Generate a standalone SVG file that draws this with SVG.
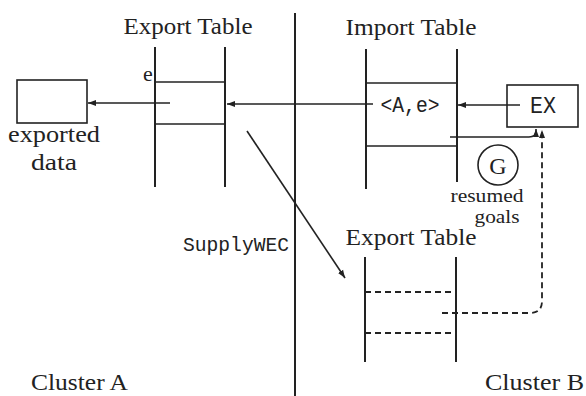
<svg xmlns="http://www.w3.org/2000/svg" width="586" height="396" viewBox="0 0 586 396">
<defs>
<style>
.ln{stroke:#222;stroke-width:2;fill:none}
.thin{stroke:#222;stroke-width:1.6;fill:none}
.dash{stroke:#222;stroke-width:1.8;fill:none;stroke-dasharray:6 4}
.box{stroke:#222;stroke-width:1.6;fill:#fff}
.serif{font-family:"Liberation Serif","DejaVu Serif",serif;fill:#222}
.mono{font-family:"Liberation Mono","DejaVu Sans Mono",monospace;fill:#222}
</style>
<marker id="ah" markerWidth="9" markerHeight="7" refX="8" refY="3.5" orient="auto" markerUnits="userSpaceOnUse">
<path d="M0,0.5 L8,3.5 L0,6.5 Z" fill="#222"/>
</marker>
</defs>
<rect width="586" height="396" fill="#fff"/>

<line class="ln" x1="295" y1="13" x2="295" y2="396"/>

<g id="exportTableA">
<text class="serif" x="188" y="34" font-size="23" text-anchor="middle" textLength="129" lengthAdjust="spacingAndGlyphs">Export Table</text>
<line class="ln" x1="155" y1="47" x2="155" y2="187"/>
<line class="ln" x1="225" y1="47" x2="225" y2="187"/>
<line class="thin" x1="155" y1="82" x2="225" y2="82"/>
<line class="thin" x1="155" y1="124" x2="225" y2="124"/>
<text class="serif" x="148" y="81" font-size="22" text-anchor="middle">e</text>
</g>

<g id="exportedData">
<rect class="box" x="17" y="80" width="70" height="43"/>
<text class="serif" x="54" y="142" font-size="23" text-anchor="middle" textLength="92" lengthAdjust="spacingAndGlyphs">exported</text>
<text class="serif" x="54" y="170" font-size="23" text-anchor="middle" textLength="46" lengthAdjust="spacingAndGlyphs">data</text>
</g>

<g id="importTable">
<text class="serif" x="411" y="35" font-size="23" text-anchor="middle" textLength="131" lengthAdjust="spacingAndGlyphs">Import Table</text>
<line class="ln" x1="366" y1="49" x2="366" y2="189"/>
<line class="ln" x1="457" y1="49" x2="457" y2="182"/>
<line class="thin" x1="366" y1="83" x2="457" y2="83"/>
<line class="thin" x1="366" y1="146" x2="457" y2="146"/>
<text class="mono" x="410" y="112" font-size="22" text-anchor="middle" textLength="59" lengthAdjust="spacingAndGlyphs">&lt;A,e&gt;</text>
</g>

<g id="ex">
<rect class="box" x="507" y="85" width="71" height="42"/>
<text class="mono" x="543" y="113" font-size="23" text-anchor="middle" textLength="26" lengthAdjust="spacingAndGlyphs">EX</text>
</g>

<g id="resumedGoals">
<circle class="thin" cx="498" cy="165" r="20"/>
<text class="serif" x="498" y="174" font-size="24" text-anchor="middle">G</text>
<text class="serif" x="487" y="202" font-size="19" text-anchor="middle" textLength="73" lengthAdjust="spacingAndGlyphs">resumed</text>
<text class="serif" x="497" y="223" font-size="19" text-anchor="middle" textLength="45" lengthAdjust="spacingAndGlyphs">goals</text>
</g>

<g id="exportTableB">
<text class="serif" x="411" y="245" font-size="23" text-anchor="middle" textLength="131" lengthAdjust="spacingAndGlyphs">Export Table</text>
<line class="ln" x1="365" y1="257" x2="365" y2="362"/>
<line class="ln" x1="456" y1="257" x2="456" y2="362"/>
<line class="dash" x1="365" y1="292" x2="456" y2="292"/>
<line class="dash" x1="365" y1="333" x2="456" y2="333"/>
</g>

<g id="labels">
<text class="mono" x="236" y="251" font-size="21" text-anchor="middle" textLength="106" lengthAdjust="spacingAndGlyphs">SupplyWEC</text>
<text class="serif" x="31" y="390" font-size="23" textLength="97" lengthAdjust="spacingAndGlyphs">Cluster A</text>
<text class="serif" x="485" y="390" font-size="23" textLength="99" lengthAdjust="spacingAndGlyphs">Cluster B</text>
</g>

<g id="connectors">
<line class="thin" x1="170" y1="103" x2="88" y2="103" marker-end="url(#ah)"/>
<line class="thin" x1="373" y1="104" x2="227" y2="104" marker-end="url(#ah)"/>
<line class="thin" x1="520" y1="105" x2="458" y2="105" marker-end="url(#ah)"/>
<path class="thin" d="M450,137 L529,137 Q536,137 536,131 L536,129" marker-end="url(#ah)"/>
<line class="thin" x1="247" y1="131" x2="345" y2="278" marker-end="url(#ah)"/>
<path class="dash" d="M442,313 L530,313 Q542,313 542,301 L542,130" marker-end="url(#ah)"/>
</g>
</svg>
